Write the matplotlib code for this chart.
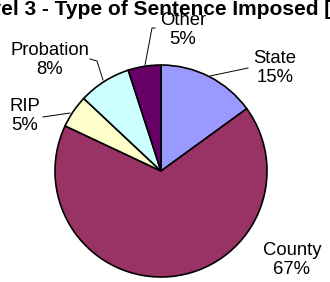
import matplotlib.pyplot as plt

plt.rcParams['font.family'] = ['Liberation Sans', 'DejaVu Sans']

categories = ["State", "County", "RIP", "Probation", "Other"]
percents = [15, 67, 5, 8, 5]
colors = ["#9999FF", "#993366", "#FFFFCC", "#CCFFFF", "#660066"]
title = "Level 3 - Type of Sentence Imposed [FY05]"

W, H = 330, 282
cx, cy, r = 161, 171, 106


def to_data(px, py):
    # pixel position in the figure -> pie data coords
    return (px - cx) / r, (cy - py) / r


# label centres and leader lines, in figure pixels
label_pos = [(275, 68), (292, 260), (25, 116), (50, 60), (183, 30)]
leaders = [
    [(210, 76), (248, 68)],
    None,
    [(43, 117), (70, 113)],
    [(90, 59), (97, 61), (103, 80)],
    [(145, 65), (152, 28), (155, 28)],
]

fig = plt.figure(figsize=(W / 100, H / 100), dpi=100)
ax = fig.add_axes([(cx - r) / W, (H - cy - r) / H, 2 * r / W, 2 * r / H])
ax.pie(percents, colors=colors, startangle=90, counterclock=False, radius=1,
       wedgeprops=dict(edgecolor="black", linewidth=1.2))
ax.set_xlim(-1, 1)
ax.set_ylim(-1, 1)
ax.set_aspect("equal")
ax.axis("off")

for name, pct, pos, line in zip(categories, percents, label_pos, leaders):
    x, y = to_data(*pos)
    ax.text(x, y, f"{name}\n{pct}%", ha="center", va="center", fontsize=13.3,
            linespacing=1.22, clip_on=False)
    if line:
        pts = [to_data(*p) for p in line]
        ax.plot([p[0] for p in pts], [p[1] for p in pts], color="black",
                linewidth=0.7, clip_on=False)

# the title is wider than the picture and runs off both sides
fig.text(-35 / W, 1 - 15 / H, title, ha="left", va="baseline", fontsize=15,
         fontweight="bold")

fig.savefig("out.png", dpi=100)
